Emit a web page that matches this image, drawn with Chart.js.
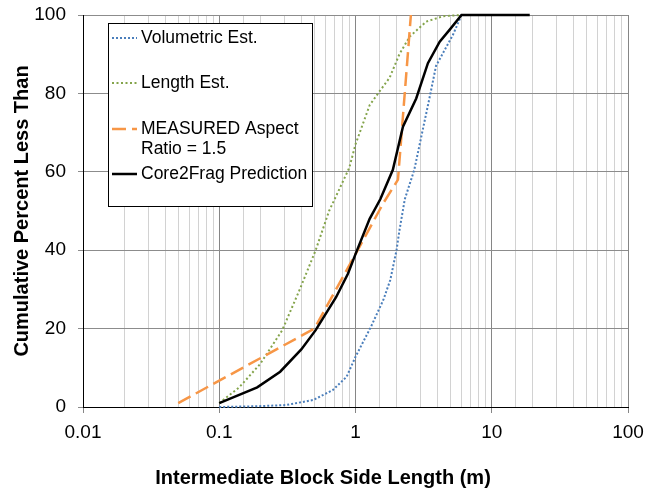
<!DOCTYPE html>
<html>
<head>
<meta charset="utf-8">
<script src="https://cdn.jsdelivr.net/npm/chart.js@4.4.1/dist/chart.umd.min.js"></script>
<style>
  html, body { margin: 0; padding: 0; background: #fff; }
  #wrap { width: 646px; height: 490px; }
</style>
</head>
<body>
<div id="wrap"><canvas id="chart" width="646" height="490"></canvas></div>
<script>
"use strict";

// values
const volX = [0.1, 0.19, 0.31, 0.49, 0.68, 0.86, 1.0, 1.3, 1.6, 1.8, 2.0, 2.1, 2.3, 2.7, 3.0, 3.5, 3.9, 4.5, 5.2, 6.0];
const volY = [0, 0.2, 0.5, 1.8, 4.3, 7.7, 12.8, 20.5, 27.3, 32.4, 40, 45, 53, 60.5, 68, 79, 87, 91, 95, 100];

const lenX = [0.1, 0.14, 0.2, 0.29, 0.39, 0.51, 0.64, 0.9, 1.0, 1.27, 1.5, 1.78, 2.1, 2.5, 3.3, 4.4, 6.0];
const lenY = [1, 5, 11, 19.6, 30, 40, 50, 61, 67, 77, 80.5, 84, 90, 94.5, 98.3, 99.7, 100];

const measX = [0.05, 0.5, 1.0, 1.6, 2.05, 2.55];
const measY = [1, 20, 39, 52, 58, 100];

const coreX = [0.1, 0.19, 0.28, 0.4, 0.51, 0.72, 0.88, 1.0, 1.27, 1.52, 1.88, 2.23, 2.79, 3.4, 4.15, 4.9, 6.0, 19];
const coreY = [1, 5, 9, 14.7, 19.6, 28, 34, 39, 48, 53, 60.5, 71.5, 78.7, 87.7, 93.2, 96.2, 100, 100];

const xTickLabels = ['0.01', '0.1', '1', '10', '100'];

const pts = (xs, ys) => xs.map((x, i) => ({x: x, y: ys[i]}));

const isDecade = (v) => {
  const l = Math.log10(v);
  return Math.abs(l - Math.round(l)) < 1e-6;
};

const FONT = "'Liberation Sans', Arial, sans-serif";

// legend drawn inside the plot, Excel style
const boxLegend = {
  id: 'boxLegend',
  afterDraw(chart) {
    const ctx = chart.ctx;
    const left = 108, top = 23, w = 204, h = 183;
    ctx.save();
    ctx.fillStyle = '#fff';
    ctx.fillRect(left, top, w, h);
    ctx.strokeStyle = '#000';
    ctx.lineWidth = 1;
    ctx.strokeRect(left + 0.5, top + 0.5, w, h);

    const rows = [
      {y: 38, text: ['Volumetric Est.']},
      {y: 83, text: ['Length Est.']},
      {y: 129, text: ['MEASURED Aspect', 'Ratio = 1.5']},
      {y: 174, text: ['Core2Frag Prediction']}
    ];
    ctx.font = '17.5px ' + FONT;
    ctx.textBaseline = 'middle';
    chart.data.datasets.forEach((ds, i) => {
      const r = rows[i];
      ctx.beginPath();
      ctx.strokeStyle = ds.borderColor;
      ctx.lineWidth = ds.borderWidth;
      ctx.setLineDash(ds.borderDash || []);
      ctx.moveTo(112, r.y);
      ctx.lineTo(137, r.y);
      ctx.stroke();
      ctx.setLineDash([]);
      ctx.fillStyle = '#000';
      r.text.forEach((t, k) => ctx.fillText(t, 141, r.y + k * 20));
    });
    ctx.restore();
  }
};

new Chart(document.getElementById('chart'), {
  type: 'line',
  data: {
    datasets: [
      {
        label: 'Volumetric Est.',
        data: pts(volX, volY),
        borderColor: '#4A7EBB',
        borderWidth: 2,
        borderDash: [2, 2],
        order: 4
      },
      {
        label: 'Length Est.',
        data: pts(lenX, lenY),
        borderColor: '#84A44B',
        borderWidth: 2,
        borderDash: [2, 2.5],
        order: 3
      },
      {
        label: 'MEASURED Aspect Ratio = 1.5',
        data: pts(measX, measY),
        borderColor: '#F79646',
        borderWidth: 2.5,
        borderDash: [14, 6],
        order: 2
      },
      {
        label: 'Core2Frag Prediction',
        data: pts(coreX, coreY),
        borderColor: '#000',
        borderWidth: 2.5,
        order: 1
      }
    ]
  },
  options: {
    responsive: false,
    animation: false,
    events: [],
    layout: { padding: { top: 15, right: 0, left: 0, bottom: 0 } },
    elements: {
      point: { radius: 0 },
      line: { tension: 0, borderCapStyle: 'butt' }
    },
    datasets: { line: { clip: false } },
    plugins: {
      legend: { display: false },
      tooltip: { enabled: false },
      // axis title as a bottom chart title so it centres on the whole picture
      title: {
        display: true,
        position: 'bottom',
        text: 'Intermediate Block Side Length (m)',
        color: '#000',
        font: { family: FONT, size: 20, weight: 'bold' },
        padding: { top: 0, bottom: 0 }
      }
    },
    scales: {
      x: {
        type: 'logarithmic',
        min: 0.01,
        max: 100,
        afterFit(scale) {
          scale.height = 59;
          scale.paddingLeft = 0;
          scale.paddingRight = 18;
        },
        border: { color: '#000', width: 1 },
        grid: {
          color: (c) => (c.tick && isDecade(c.tick.value)) ? '#868686' : '#d2d2d2',
          tickColor: (c) => (c.tick && isDecade(c.tick.value)) ? '#868686' : 'rgba(0,0,0,0)',
          tickLength: 6
        },
        ticks: {
          autoSkip: false,
          maxRotation: 0,
          padding: 8,
          color: '#000',
          font: { family: FONT, size: 19 },
          callback: (v) => {
            if (!isDecade(v)) return '';
            return xTickLabels[Math.round(Math.log10(v)) + 2];
          }
        }
      },
      y: {
        min: 0,
        max: 100,
        afterFit(scale) {
          scale.width = 83;
          scale.paddingTop = 0;
          scale.paddingBottom = 0;
        },
        border: { color: '#000', width: 1 },
        grid: {
          color: '#8c8c8c',
          tickColor: '#8c8c8c',
          tickLength: 5
        },
        ticks: {
          stepSize: 20,
          padding: 12,
          color: '#000',
          font: { family: FONT, size: 19 }
        },
        title: {
          display: true,
          text: 'Cumulative Percent Less Than',
          color: '#000',
          font: { family: FONT, size: 20, weight: 'bold' },
          padding: { top: 10, bottom: 0 }
        }
      }
    }
  },
  plugins: [boxLegend]
});
</script>
</body>
</html>
